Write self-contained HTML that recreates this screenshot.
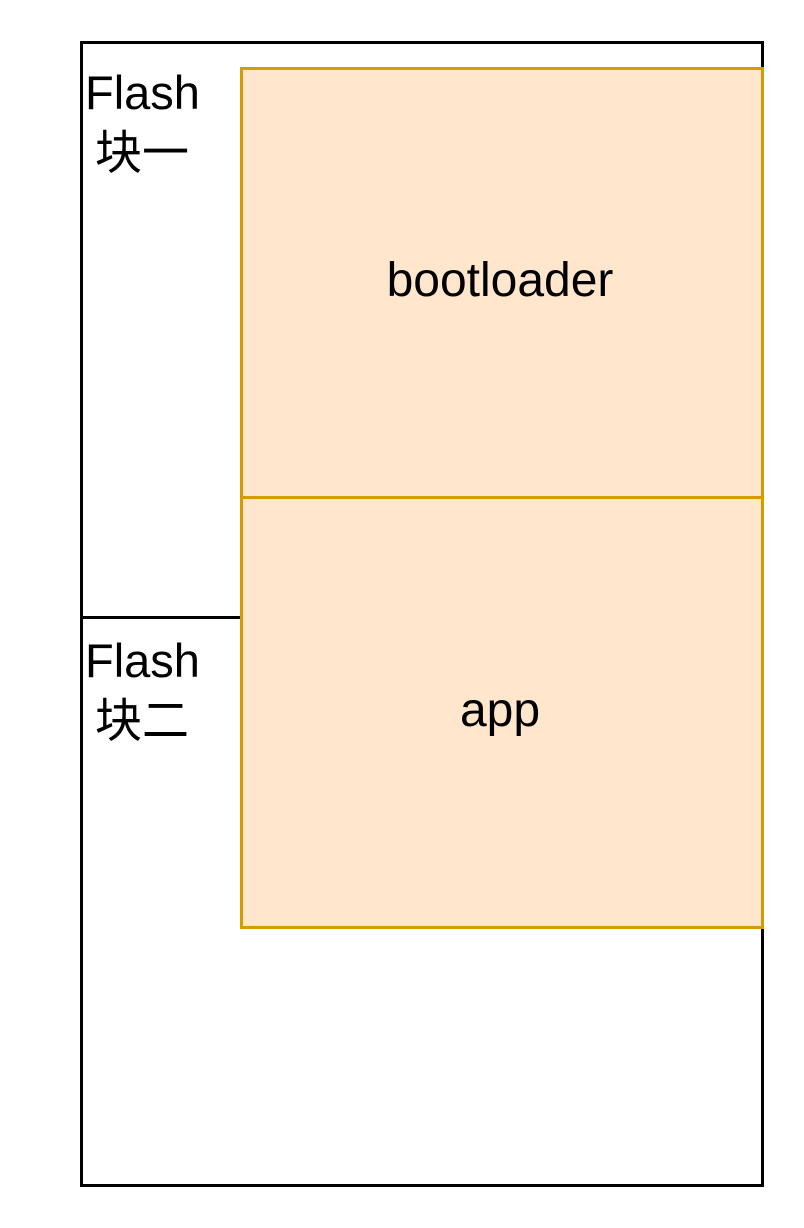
<!DOCTYPE html>
<html><head><meta charset="utf-8"><style>
body{margin:0;width:804px;height:1228px;background:#fff;position:relative;overflow:hidden;font-family:"Liberation Sans","Noto Sans CJK SC",sans-serif;}
div{position:absolute;box-sizing:border-box;}
.t{font-size:47px;line-height:46px;color:#000;white-space:nowrap;}
</style></head><body>
<div style="left:80px;top:41px;width:684px;height:1146px;border:3px solid #000;"></div>
<div style="left:80px;top:616px;width:162px;height:3px;background:#000;"></div>
<div style="left:240px;top:67px;width:524px;height:432px;border:3px solid #d79b00;background:#ffe6cc;"></div>
<div style="left:240px;top:496px;width:524px;height:433px;border:3px solid #d79b00;background:#ffe6cc;"></div>
<div class="t" style="left:85px;top:70px;">Flash</div>
<div class="t" style="left:95px;top:130px;">块一</div>
<div class="t" style="left:85px;top:638px;">Flash</div>
<div class="t" style="left:95px;top:698px;">块二</div>
<div class="t" style="left:238px;width:524px;text-align:center;top:258px;font-size:48px;">bootloader</div>
<div class="t" style="left:238px;width:524px;text-align:center;top:688px;font-size:48px;">app</div>
</body></html>
